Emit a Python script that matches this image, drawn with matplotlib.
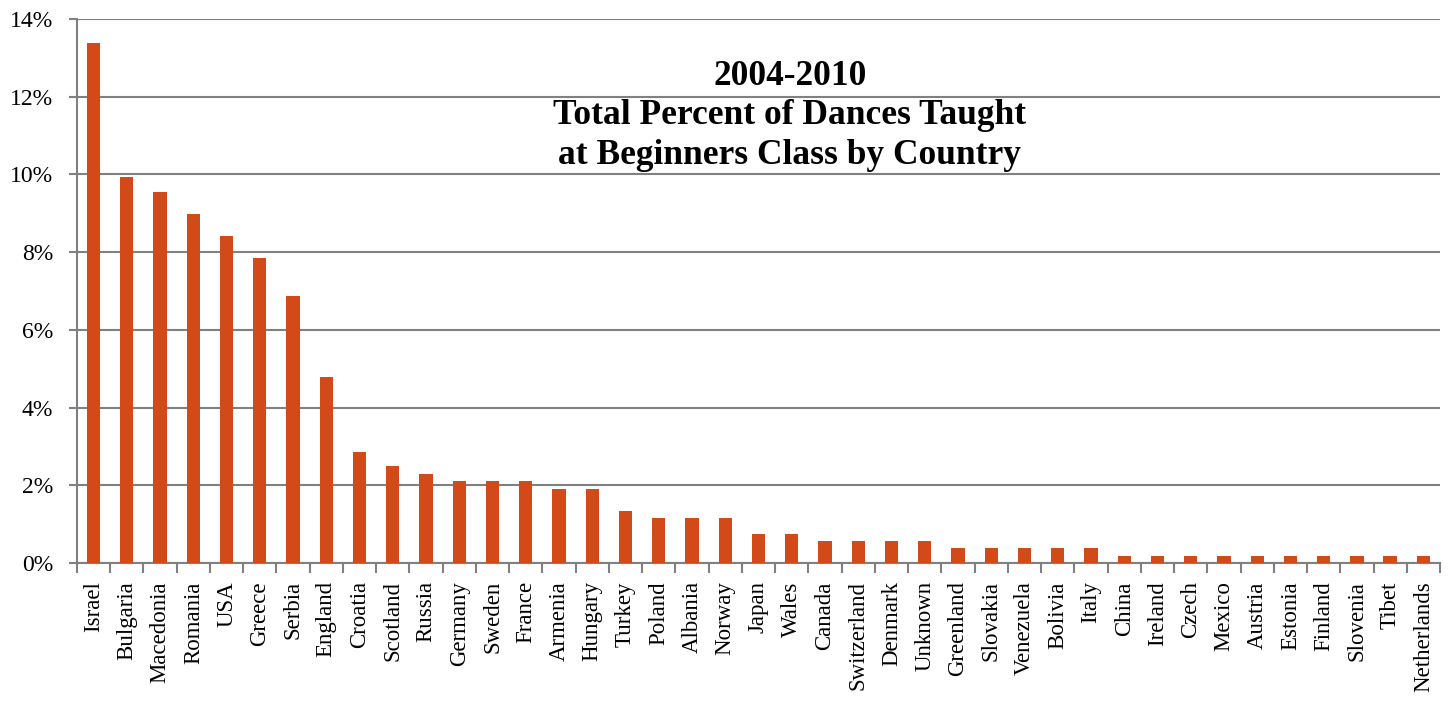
import matplotlib.pyplot as plt
from matplotlib.ticker import FuncFormatter

countries = ["Israel", "Bulgaria", "Macedonia", "Romania", "USA", "Greece",
             "Serbia", "England", "Croatia", "Scotland", "Russia", "Germany",
             "Sweden", "France", "Armenia", "Hungary", "Turkey", "Poland",
             "Albania", "Norway", "Japan", "Wales", "Canada", "Switzerland",
             "Denmark", "Unknown", "Greenland", "Slovakia", "Venezuela",
             "Bolivia", "Italy", "China", "Ireland", "Czech", "Mexico",
             "Austria", "Estonia", "Finland", "Slovenia", "Tibet", "Netherlands"]
percent = [13.38, 9.94, 9.56, 8.99, 8.41, 7.84, 6.88, 4.78, 2.87, 2.49, 2.29,
           2.10, 2.10, 2.10, 1.91, 1.91, 1.34, 1.15, 1.15, 1.15, 0.76, 0.76,
           0.57, 0.57, 0.57, 0.57, 0.38, 0.38, 0.38, 0.38, 0.38, 0.19, 0.19,
           0.19, 0.19, 0.19, 0.19, 0.19, 0.19, 0.19, 0.19]

bar_color = "#d34a19"
grid_grey = "#808080"

plt.rcParams["font.family"] = ["Liberation Serif", "DejaVu Serif"]

fig = plt.figure(figsize=(14.49, 7.03), dpi=100)
ax = fig.add_axes([0.0531, 0.199, 0.9407, 0.774])

x = range(len(countries))
ax.bar(x, percent, width=0.4, color=bar_color, zorder=3)

ax.set_xlim(-0.5, len(countries) - 0.5)
ax.set_ylim(0, 14)
ax.set_yticks(range(0, 15, 2))
ax.yaxis.set_major_formatter(FuncFormatter(lambda v, p: f"{v:.0f}%"))
ax.grid(axis="y", color=grid_grey, linewidth=1.5, zorder=0)

ax.set_xticks(list(x))
ax.set_xticklabels(countries, rotation=90, fontsize=16.5)
ax.set_xticks([i - 0.5 for i in range(len(countries) + 1)], minor=True)
ax.tick_params(axis="x", which="major", length=0, pad=13)
ax.tick_params(axis="x", which="minor", length=7, width=1.5, color=grid_grey)
ax.tick_params(axis="y", length=6, width=1.5, color=grid_grey, labelsize=17, pad=11)

for side in ["top", "right"]:
    ax.spines[side].set_visible(False)
for side in ["left", "bottom"]:
    ax.spines[side].set_color(grid_grey)
    ax.spines[side].set_linewidth(1.5)

ax.text(0.523, 0.822, "2004-2010\nTotal Percent of Dances Taught\nat Beginners Class by Country",
        transform=ax.transAxes, ha="center", va="center", fontsize=25.5,
        fontweight="bold", linespacing=1.27)

fig.savefig("out.png", dpi=100)
